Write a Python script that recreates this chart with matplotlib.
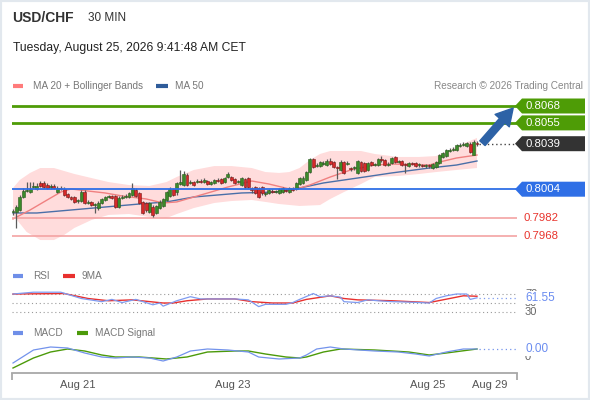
import matplotlib
matplotlib.use('Agg')
import matplotlib.pyplot as plt
import matplotlib.transforms as mtransforms
from matplotlib.patches import Polygon, Rectangle
from matplotlib.lines import Line2D
import numpy as np

plt.rcParams['font.family'] = ['Liberation Sans', 'DejaVu Sans']

# ---------------- data ----------------
opens = [0.79865, 0.79865, 0.79880, 0.79980, 0.80026, 0.80018, 0.80057, 0.80042, 0.80088, 0.80088,
         0.80072, 0.80057, 0.80065, 0.80018, 0.80049, 0.80042, 0.80003, 0.79980, 0.79980, 0.79949,
         0.79949, 0.80018, 0.79934, 0.79942, 0.79918, 0.79895, 0.79934, 0.79957, 0.79980, 0.79988,
         0.79988, 0.79903, 0.79972, 0.79980, 0.79980, 0.79995, 0.80034, 0.80011, 0.79942, 0.79934,
         0.79865, 0.79903, 0.79857, 0.79895, 0.79911, 0.79957, 0.79988, 0.80042, 0.80018, 0.80080,
         0.80072, 0.80149, 0.80088, 0.80095, 0.80095, 0.80103, 0.80095, 0.80103, 0.80080, 0.80088,
         0.80111, 0.80118, 0.80095, 0.80134, 0.80134, 0.80118, 0.80095, 0.80072, 0.80118, 0.80126,
         0.80049, 0.80057, 0.80049, 0.80057, 0.80003, 0.80011, 0.80026, 0.80018, 0.80011, 0.80018,
         0.80034, 0.80018, 0.80042, 0.80042, 0.80080, 0.80088, 0.80111, 0.80172, 0.80272, 0.80218,
         0.80218, 0.80234, 0.80226, 0.80257, 0.80249, 0.80211, 0.80188, 0.80249, 0.80234, 0.80203,
         0.80203, 0.80165, 0.80249, 0.80241, 0.80188, 0.80249, 0.80226, 0.80226, 0.80272, 0.80264,
         0.80226, 0.80241, 0.80288, 0.80249, 0.80257, 0.80234, 0.80218, 0.80241, 0.80241, 0.80226,
         0.80226, 0.80218, 0.80226, 0.80203, 0.80211, 0.80241, 0.80288, 0.80295, 0.80334, 0.80341,
         0.80341, 0.80372, 0.80380, 0.80372, 0.80388, 0.80303, 0.80395]
highs = [0.79888, 0.79918, 0.79995, 0.80049, 0.80095, 0.80095, 0.80095, 0.80088, 0.80103, 0.80103,
         0.80088, 0.80080, 0.80080, 0.80065, 0.80065, 0.80057, 0.80011, 0.79988, 0.79988, 0.79965,
         0.80034, 0.80034, 0.79957, 0.79949, 0.79934, 0.79949, 0.79972, 0.79988, 0.79995, 0.79995,
         0.79995, 0.79988, 0.79995, 0.80003, 0.80018, 0.80088, 0.80049, 0.80018, 0.79949, 0.79942,
         0.79942, 0.79918, 0.79918, 0.79957, 0.79972, 0.80026, 0.80057, 0.80049, 0.80095, 0.80188,
         0.80180, 0.80165, 0.80111, 0.80103, 0.80118, 0.80118, 0.80126, 0.80111, 0.80103, 0.80118,
         0.80126, 0.80126, 0.80134, 0.80172, 0.80142, 0.80126, 0.80111, 0.80134, 0.80126, 0.80134,
         0.80057, 0.80065, 0.80057, 0.80065, 0.80018, 0.80042, 0.80042, 0.80034, 0.80049, 0.80057,
         0.80042, 0.80057, 0.80057, 0.80095, 0.80134, 0.80142, 0.80180, 0.80280, 0.80280, 0.80241,
         0.80257, 0.80257, 0.80272, 0.80280, 0.80257, 0.80218, 0.80264, 0.80257, 0.80257, 0.80211,
         0.80218, 0.80264, 0.80257, 0.80249, 0.80249, 0.80257, 0.80241, 0.80280, 0.80295, 0.80272,
         0.80249, 0.80288, 0.80295, 0.80264, 0.80264, 0.80241, 0.80249, 0.80249, 0.80249, 0.80241,
         0.80234, 0.80234, 0.80234, 0.80241, 0.80257, 0.80311, 0.80326, 0.80349, 0.80357, 0.80364,
         0.80388, 0.80395, 0.80403, 0.80403, 0.80403, 0.80419, 0.80411]
lows = [0.79842, 0.79742, 0.79872, 0.79972, 0.80018, 0.80011, 0.80049, 0.80034, 0.80057, 0.80049,
        0.80042, 0.80042, 0.80042, 0.80011, 0.80034, 0.79988, 0.79972, 0.79957, 0.79934, 0.79934,
        0.79942, 0.79926, 0.79926, 0.79911, 0.79857, 0.79880, 0.79926, 0.79949, 0.79972, 0.79965,
        0.79895, 0.79895, 0.79965, 0.79972, 0.79972, 0.79988, 0.79980, 0.79926, 0.79849, 0.79865,
        0.79857, 0.79826, 0.79849, 0.79888, 0.79903, 0.79949, 0.79980, 0.79988, 0.79995, 0.80072,
        0.80065, 0.80065, 0.80080, 0.80065, 0.80088, 0.80088, 0.80088, 0.80072, 0.80072, 0.80080,
        0.80095, 0.80080, 0.80088, 0.80126, 0.80103, 0.80080, 0.80088, 0.80065, 0.80049, 0.80049,
        0.80011, 0.80003, 0.79972, 0.79995, 0.79988, 0.80003, 0.80011, 0.80011, 0.80003, 0.80011,
        0.80018, 0.80011, 0.80026, 0.80034, 0.80072, 0.80080, 0.80103, 0.80165, 0.80203, 0.80211,
        0.80211, 0.80226, 0.80218, 0.80226, 0.80203, 0.80118, 0.80180, 0.80157, 0.80226, 0.80180,
        0.80188, 0.80157, 0.80172, 0.80172, 0.80180, 0.80218, 0.80218, 0.80218, 0.80249, 0.80218,
        0.80218, 0.80234, 0.80241, 0.80241, 0.80218, 0.80165, 0.80211, 0.80226, 0.80211, 0.80211,
        0.80211, 0.80203, 0.80203, 0.80195, 0.80203, 0.80234, 0.80280, 0.80288, 0.80326, 0.80334,
        0.80334, 0.80364, 0.80372, 0.80364, 0.80318, 0.80303, 0.80372]
closes = [0.79872, 0.79903, 0.79980, 0.80026, 0.80034, 0.80042, 0.80065, 0.80065, 0.80065, 0.80057,
          0.80049, 0.80065, 0.80049, 0.80049, 0.80042, 0.79995, 0.79980, 0.79965, 0.79942, 0.79957,
          0.80018, 0.79934, 0.79942, 0.79918, 0.79926, 0.79934, 0.79965, 0.79980, 0.79988, 0.79972,
          0.79903, 0.79972, 0.79980, 0.79988, 0.80011, 0.80049, 0.79988, 0.79934, 0.79857, 0.79880,
          0.79934, 0.79842, 0.79911, 0.79942, 0.79965, 0.80018, 0.80042, 0.79995, 0.80088, 0.80095,
          0.80157, 0.80072, 0.80095, 0.80072, 0.80103, 0.80095, 0.80111, 0.80080, 0.80095, 0.80111,
          0.80103, 0.80088, 0.80126, 0.80157, 0.80111, 0.80088, 0.80103, 0.80126, 0.80057, 0.80057,
          0.80034, 0.80011, 0.79980, 0.80011, 0.80011, 0.80034, 0.80018, 0.80026, 0.80042, 0.80049,
          0.80026, 0.80049, 0.80034, 0.80088, 0.80126, 0.80126, 0.80172, 0.80272, 0.80211, 0.80226,
          0.80249, 0.80241, 0.80257, 0.80234, 0.80211, 0.80203, 0.80249, 0.80165, 0.80241, 0.80195,
          0.80211, 0.80257, 0.80180, 0.80180, 0.80241, 0.80226, 0.80234, 0.80272, 0.80264, 0.80226,
          0.80234, 0.80280, 0.80249, 0.80257, 0.80226, 0.80226, 0.80241, 0.80234, 0.80218, 0.80234,
          0.80218, 0.80226, 0.80218, 0.80234, 0.80249, 0.80303, 0.80318, 0.80341, 0.80341, 0.80349,
          0.80380, 0.80380, 0.80388, 0.80395, 0.80326, 0.80403, 0.80390]

# Bollinger bands (candle index, price)
bb_upper_idx = [0, 2, 5, 8, 12, 15, 18, 23, 28, 34, 40, 45, 48, 53, 59, 64, 70, 74, 78, 81, 84,
                87, 90, 93, 102, 106, 113, 119, 124, 128, 131, 136]
bb_upper = [0.80049, 0.80111, 0.80165, 0.80203, 0.80203, 0.80180, 0.80157, 0.80126, 0.80095,
            0.80072, 0.80065, 0.80095, 0.80134, 0.80188, 0.80218, 0.80218, 0.80203, 0.80172,
            0.80165, 0.80172, 0.80203, 0.80264, 0.80311, 0.80334, 0.80334, 0.80311, 0.80288,
            0.80288, 0.80295, 0.80341, 0.80380, 0.80434]
bb_lower_idx = [0, 4, 8, 12, 15, 18, 23, 28, 34, 40, 45, 48, 53, 59, 64, 70, 74, 78, 84, 90, 93,
                97, 102, 106, 113, 119, 124, 130, 136]
bb_lower = [0.79842, 0.79711, 0.79649, 0.79649, 0.79688, 0.79742, 0.79803, 0.79842, 0.79849,
            0.79826, 0.79818, 0.79849, 0.79895, 0.79934, 0.79949, 0.79957, 0.79942, 0.79926,
            0.79911, 0.79918, 0.79965, 0.80018, 0.80080, 0.80134, 0.80142, 0.80157, 0.80172,
            0.80188, 0.80203]

ma20_idx = [0, 5, 10, 14, 17, 22, 27, 32, 39, 44, 48, 53, 58, 63, 70, 75, 81, 84, 87, 93, 99,
            106, 111, 122, 125, 130, 136]
ma20 = [0.79811, 0.79880, 0.79957, 0.80018, 0.80042, 0.80026, 0.80011, 0.79988, 0.79965, 0.79934,
        0.79942, 0.79980, 0.80018, 0.80057, 0.80103, 0.80080, 0.80042, 0.80049, 0.80072, 0.80134,
        0.80188, 0.80226, 0.80234, 0.80226, 0.80249, 0.80280, 0.80303]

ma50_idx = [0, 7, 17, 27, 37, 45, 53, 67, 77, 84, 91, 101, 111, 122, 130, 136]
ma50 = [0.79857, 0.79857, 0.79880, 0.79903, 0.79926, 0.79942, 0.79980, 0.80011, 0.80018, 0.80049,
        0.80088, 0.80126, 0.80165, 0.80203, 0.80226, 0.80257]

resistance_levels = [0.8068, 0.8055]
current_level = 0.8039
support_level = 0.8004
lower_levels = [0.7982, 0.7968]

rsi_idx = [0, 6, 14, 20, 26, 29, 32, 36, 41, 43, 44, 48, 52, 55, 60, 65, 69, 72, 74, 80, 82, 84,
           88, 90, 93, 96, 97, 101, 104, 107, 111, 116, 122, 124, 127, 130, 133, 134, 136]
rsi = [70, 74, 74, 60, 53, 58, 51, 58, 46, 50, 43, 55, 64, 59, 59, 59, 57, 42, 47, 47, 51, 58,
       71, 64, 66, 63, 53, 51, 57, 55, 53, 52, 50, 60, 66, 70, 70, 58, 61.55]
rsi_ma_idx = [0, 15, 22, 28, 35, 44, 47, 51, 57, 65, 70, 76, 82, 86, 93, 97, 101, 111, 122, 128,
              132, 136]
rsi_ma = [70, 71, 60, 55, 57, 50, 50, 55, 59, 59, 53, 50, 50, 58, 66, 60, 57, 55, 51, 60, 66, 65]
rsi_levels = [70, 50, 30]

macd_idx = [0, 6, 11, 16, 21, 26, 30, 35, 40, 44, 48, 52, 57, 63, 69, 72, 78, 84, 86, 89, 93, 97,
            106, 113, 118, 122, 127, 132, 136]
macd = [-0.0003, 0.00035, 0.0005, 0.00045, 0.0002, 0.0, -0.00005, 0.0, -0.00005, -0.0002, 0.0,
        0.0003, 0.0004, 0.00035, 0.00025, 0.0, -0.0001, -0.00005, 0.0001, 0.0004, 0.0005, 0.0004,
        0.0003, 0.00025, 0.00015, 0.00005, 0.00025, 0.0004, 0.0004]
signal_idx = [0, 6, 11, 16, 21, 26, 30, 37, 45, 51, 57, 65, 69, 74, 80, 84, 86, 91, 96, 106, 116,
              122, 127, 136]
signal = [-0.00055, -0.00005, 0.00025, 0.0004, 0.0003, 0.0001, 0.0, 0.0, -0.0001, 0.0, 0.00025,
          0.0003, 0.0003, 0.00015, 0.0, -0.00005, 0.0, 0.00025, 0.0004, 0.00035, 0.00025, 0.0001,
          0.0002, 0.0004]

date_labels = ['Aug 21', 'Aug 23', 'Aug 25', 'Aug 29']

# ---------------- layout ----------------
W, H = 590, 400
fig = plt.figure(figsize=(W / 100, H / 100), dpi=100)
fig.patch.set_facecolor('white')

def fxp(px):
    return px / W

def fyp(py):
    return 1 - py / H

def add_ax(x0, y0, x1, y1):
    a = fig.add_axes([fxp(x0), fyp(y1), (x1 - x0) / W, (y1 - y0) / H])
    a.set_facecolor('none')
    for s in a.spines.values():
        s.set_visible(False)
    a.set_xticks([])
    a.set_yticks([])
    return a

n = len(closes)
first_px, last_px = 13, 477
pitch = (last_px - first_px) / (n - 1)
ax_left_px, ax_right_px = 12, 517
xlim = ((ax_left_px - first_px) / pitch, (ax_right_px - first_px) / pitch)
tick_px = [78, 233, 428, 490]
tick_pos = [(p - first_px) / pitch for p in tick_px]

GREEN = '#4e9c06'
BLUE = '#2f6fe6'
DARK = '#333333'
RED_TXT = '#e8332c'

# ---- main price panel ----
ax = add_ax(ax_left_px, 100, ax_right_px, 245)
px_per_unit = 13000.0
ax.set_ylim(0.7968 - 9 / px_per_unit, 0.7968 + 136 / px_per_unit)
ax.set_xlim(*xlim)

ax.fill(np.r_[bb_upper_idx, bb_lower_idx[::-1]], np.r_[bb_upper, bb_lower[::-1]],
        color='#ffdcdc', lw=0, zorder=1)
ax.plot(ma50_idx, ma50, color='#4a6fa8', lw=1.0, zorder=2)
ax.plot(ma20_idx, ma20, color='#f08080', lw=1.0, zorder=2)

x = np.arange(n)
o = np.array(opens); c = np.array(closes); hi = np.array(highs); lo = np.array(lows)
up = c >= o
ax.vlines(x, lo, hi, color='#5a5a5a', lw=0.9, zorder=3)
body_bottom = np.minimum(o, c)
body_h = np.maximum(np.abs(c - o), 0.00003)
ax.bar(x[up], body_h[up], bottom=body_bottom[up], width=0.85, color='#3b8a2a',
       edgecolor='#2a5a1e', lw=0.4, zorder=4)
ax.bar(x[~up], body_h[~up], bottom=body_bottom[~up], width=0.85, color='#d62a2a',
       edgecolor='#7a1818', lw=0.4, zorder=4)

for lv in resistance_levels:
    ax.axhline(lv, color=GREEN, lw=2.0, zorder=2)
ax.axhline(support_level, color=BLUE, lw=1.3, zorder=5)
for lv in lower_levels:
    ax.axhline(lv, color='#f4a3a3', lw=1.2, zorder=2)

ax.plot([n - 0.5, xlim[1]], [closes[-1], closes[-1]], linestyle=(0, (1, 2)), color='#444444',
        lw=1.0, zorder=3)

trans = mtransforms.blended_transform_factory(fig.transFigure, ax.transData)
hh = 7.5 / px_per_unit

def level_box(level, text, fc):
    pts = [(fxp(515), level), (fxp(522), level + hh), (fxp(585), level + hh),
           (fxp(585), level - hh), (fxp(522), level - hh)]
    ax.add_patch(Polygon(pts, closed=True, transform=trans, facecolor=fc, edgecolor='none',
                         clip_on=False, zorder=6))
    ax.text(fxp(526), level, text, transform=trans, color='white', fontsize=8.2, va='center',
            ha='left', zorder=7, clip_on=False)

for lv in resistance_levels:
    level_box(lv, f'{lv:.4f}', GREEN)
level_box(current_level, f'{current_level:.4f}', DARK)
level_box(support_level, f'{support_level:.4f}', BLUE)
for lv in lower_levels:
    ax.text(fxp(524), lv, f'{lv:.4f}', transform=trans, color=RED_TXT, fontsize=8.2, va='center',
            ha='left', clip_on=False)

ax.annotate('', xy=(146.6, resistance_levels[0] - 0.00016), xytext=(137.6, closes[-1] + 0.00004),
            arrowprops=dict(arrowstyle='simple,head_length=0.75,head_width=0.85,tail_width=0.32',
                            color='#2d62a6', mutation_scale=16, shrinkA=0, shrinkB=0),
            annotation_clip=False, zorder=8)

# ---- RSI panel ----
ax2 = add_ax(ax_left_px, 288, ax_right_px, 318)
ax2.set_xlim(*xlim)
ax2.set_ylim(30 - 6 / 0.45, 70 + 6 / 0.45)
for lv in rsi_levels:
    ax2.axhline(lv, color='#9a9a9a', lw=0.8, linestyle=(0, (1, 2.5)), zorder=1)
ax2.plot(rsi_ma_idx, rsi_ma, color='#e8302e', lw=1.0, zorder=2)
ax2.plot(rsi_idx, rsi, color='#7f9bf0', lw=0.9, zorder=3)
ax2.plot([n - 0.5, xlim[1]], [rsi[-1], rsi[-1]], linestyle=(0, (1, 2.5)), color='#7f9bf0', lw=0.9)
trans2 = mtransforms.blended_transform_factory(fig.transFigure, ax2.transData)
for lv in rsi_levels:
    ax2.text(fxp(525), lv, str(lv), transform=trans2, color='#666666', fontsize=8, va='center',
             ha='left', clip_on=False)
ax2.text(fxp(525), rsi[-1], f'{rsi[-1]:.2f}', transform=trans2, color='#6a8cf0', fontsize=8.5,
         va='center', ha='left', clip_on=False,
         bbox=dict(boxstyle='square,pad=0.05', fc='white', ec='none'))

# ---- MACD panel ----
ax3 = fig.add_axes([fxp(ax_left_px), fyp(373), (ax_right_px - ax_left_px) / W, 33 / H])
ax3.set_facecolor('none')
for k in ['top', 'right', 'left']:
    ax3.spines[k].set_visible(False)
ax3.spines['bottom'].set_color('#a8a8a8')
ax3.spines['bottom'].set_linewidth(1.3)
ax3.set_xlim(*xlim)
ax3.set_ylim(-0.0008, 0.00085)
ax3.set_yticks([])
ax3.plot(signal_idx, signal, color='#4c9a0a', lw=1.0, zorder=2)
ax3.plot(macd_idx, macd, color='#7393ec', lw=0.9, zorder=3)
ax3.plot([n - 0.5, xlim[1]], [macd[-1], macd[-1]], linestyle=(0, (1, 2.5)), color='#7393ec', lw=0.9)
ax3.set_xticks(tick_pos)
ax3.set_xticklabels(date_labels, fontsize=8, color='#555555')
ax3.tick_params(axis='x', length=0, pad=5)
ax3.set_xticks([xlim[0] + 0.05, xlim[1] - 0.05], minor=True)
ax3.tick_params(axis='x', which='minor', length=5, width=1.3, color='#a8a8a8', direction='out')
trans3 = mtransforms.blended_transform_factory(fig.transFigure, ax3.transData)
ax3.text(fxp(525), 0.0, '0', transform=trans3, color='#666666', fontsize=8, va='center',
         ha='left', clip_on=False)
ax3.text(fxp(525), macd[-1], f'{macd[-1]:.2f}', transform=trans3, color='#6a8cf0', fontsize=8.5,
         va='center', ha='left', clip_on=False,
         bbox=dict(boxstyle='square,pad=0.05', fc='white', ec='none'))

# ---- header & legends ----
fig.text(fxp(12), fyp(18), 'USD/CHF', fontsize=10, fontweight='bold', color='#333333', va='center')
fig.text(fxp(88), fyp(18), '30 MIN', fontsize=8.5, color='#333333', va='center')
fig.text(fxp(13), fyp(48), 'Tuesday, August 25, 2026 9:41:48 AM CET', fontsize=8.7,
         color='#222222', va='center')

def legend_item(x0, x1, y, color, label, tx):
    fig.add_artist(Line2D([fxp(x0), fxp(x1)], [fyp(y), fyp(y)], color=color, lw=3,
                          solid_capstyle='butt', transform=fig.transFigure))
    fig.text(fxp(tx), fyp(y), label, fontsize=7.2, color='#777777', va='center')

legend_item(13, 23, 86, '#ff7b7b', 'MA 20 + Bollinger Bands', 33)
legend_item(156, 168, 86, '#2f5c9a', 'MA 50', 175)
fig.text(fxp(583), fyp(86), 'Research \u00a9 2026 Trading Central', fontsize=7.2, color='#888888',
         va='center', ha='right')
legend_item(13, 23, 276, '#6f8fe8', 'RSI', 33)
legend_item(63, 75, 276, '#e8302e', '9MA', 82)
legend_item(13, 23, 333, '#6f8fe8', 'MACD', 33)
legend_item(77, 88, 333, '#4c9a0a', 'MACD Signal', 95)

fig.add_artist(Rectangle((0, 0), 1, 1, transform=fig.transFigure, fill=False,
                         edgecolor='#e2e8ee', lw=3))

fig.savefig('out.png', dpi=100)
